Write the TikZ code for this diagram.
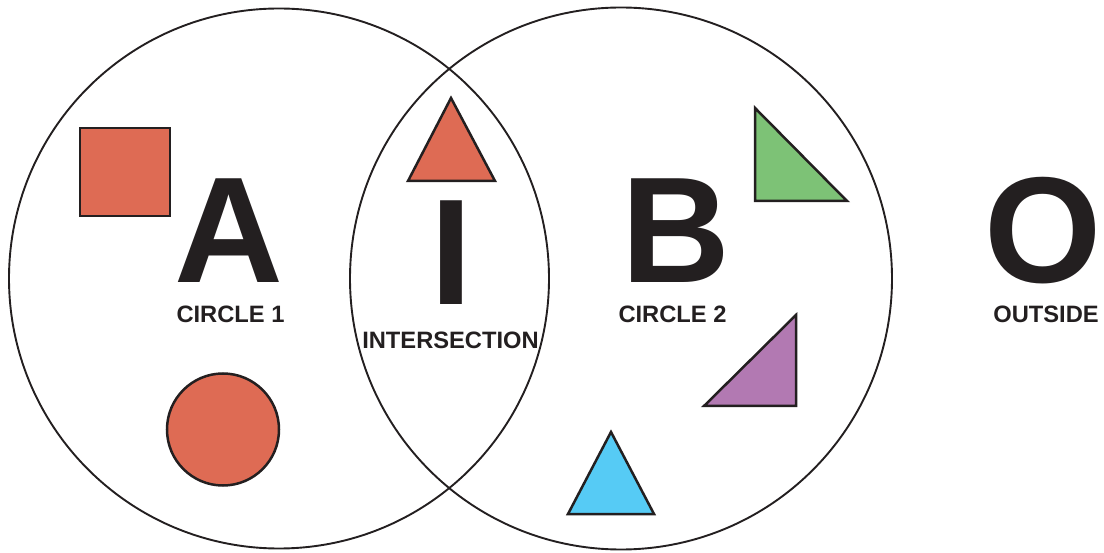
\documentclass[tikz,border=0pt]{standalone}
\usepackage{fontspec}
\setmainfont{Liberation Sans}
\definecolor{ink}{HTML}{231F20}
\definecolor{coral}{HTML}{DE6B54}
\definecolor{leaf}{HTML}{7DC276}
\definecolor{orchid}{HTML}{B279B2}
\definecolor{sky}{HTML}{56CBF5}
\begin{document}
\begin{tikzpicture}[x=1pt,y=-1pt,
  setline/.style={draw=ink, line width=1.9pt},
  shapeline/.style={draw=ink, line width=2.5pt, line join=miter},
  bigletter/.style={anchor=base, inner sep=0, text=ink,
    font=\fontsize{150.8}{150.8}\selectfont\bfseries},
  caption/.style={anchor=base, inner sep=0, text=ink,
    font=\fontsize{23.7}{23.7}\selectfont\bfseries}]
\useasboundingbox (0,0) rectangle (1104,553);

% the two sets
\draw[setline] (279,278.5) circle[radius=270];
\draw[setline] (621,278.5) circle[radius=271];

% members of set 1
\draw[shapeline, fill=coral] (80,128) rectangle (170,216);
\draw[shapeline, fill=coral] (223,429.5) circle[radius=56];

% member of the intersection
\draw[shapeline, fill=coral] (451,98) -- (495,181) -- (408,181) -- cycle;

% members of set 2
\draw[shapeline, fill=leaf] (755,108) -- (847,201) -- (755,201) -- cycle;
\draw[shapeline, fill=orchid] (796,315) -- (796,406) -- (704,406) -- cycle;
\draw[shapeline, fill=sky] (611,432) -- (654,514) -- (568,514) -- cycle;

% region letters
\node[bigletter] (letA) at (229,283) {A};
\node[bigletter] (letI) at (451.5,305) {I};
\node[bigletter] (letB) at (676,283) {B};
\node[bigletter] (letO) at (1043,283) {O};

% region captions
\node[caption] (capA) at (230.5,323) {CIRCLE 1};
\node[caption] (capI) at (450.5,349) {INTERSECTION};
\node[caption] (capB) at (672.5,323) {CIRCLE 2};
\node[caption] (capO) at (1046,323) {OUTSIDE};
\end{tikzpicture}
\end{document}
